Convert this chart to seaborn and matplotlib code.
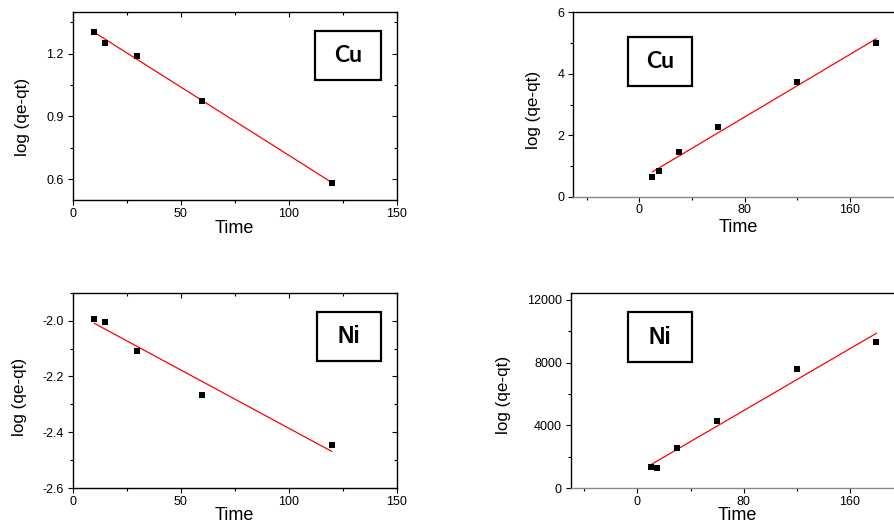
import numpy as np
import pandas as pd
import matplotlib
matplotlib.use("Agg")
import matplotlib.pyplot as plt
from matplotlib.patches import Rectangle
from matplotlib.ticker import MultipleLocator, FuncFormatter
import seaborn as sns

sns.set_theme(style="ticks")
plt.rcParams["font.family"] = ["Liberation Sans", "DejaVu Sans"]
plt.rcParams.update({"text.color": "black", "axes.labelcolor": "black",
                     "xtick.color": "black", "ytick.color": "black"})

# pseudo-first-order panels (left) and pseudo-second-order panels (right)
time_left = [10, 15, 30, 60, 120]
cu_first = [1.304, 1.252, 1.188, 0.973, 0.582]
ni_first = [-1.996, -2.005, -2.108, -2.266, -2.445]

time_right = [10, 15, 30, 60, 120, 180]
cu_second = [0.63, 0.83, 1.45, 2.26, 3.73, 5.00]
ni_second = [1340, 1295, 2590, 4310, 7620, 9305]

panels = [
    dict(x=time_left, y=cu_first, metal="Cu", rect=[0.0812, 0.6198, 0.362, 0.358],
         xlim=(0, 150), ylim=(0.5, 1.4), xt=(50, 25), yt=(0.3, 0.15),
         box=(0.748, 0.637, 0.204, 0.26), fmt="{:.1f}", side="left",
         xlab=(0.5, -0.149), ylab=(-0.155, 0.44)),
    dict(x=time_right, y=cu_second, metal="Cu", rect=[0.6406, 0.626, 0.368, 0.3506],
         xlim=(-50, 200), ylim=(0, 6), xt=(80, 40), yt=(2, 1),
         box=(0.165, 0.60, 0.196, 0.264), fmt="{:.0f}", side="right",
         xlab=(0.5, -0.167), ylab=(-0.121, 0.473)),
    dict(x=time_left, y=ni_first, metal="Ni", rect=[0.0812, 0.0717, 0.362, 0.372],
         xlim=(0, 150), ylim=(-2.6, -1.9), xt=(50, 25), yt=(0.2, 0.1),
         box=(0.753, 0.652, 0.199, 0.251), fmt="{:.1f}", side="left",
         xlab=(0.5, -0.14), ylab=(-0.163, 0.468)),
    dict(x=time_right, y=ni_second, metal="Ni", rect=[0.638, 0.0717, 0.371, 0.372],
         xlim=(-50, 200), ylim=(0, 12450), xt=(80, 40), yt=(4000, 2000),
         box=(0.1726, 0.644, 0.193, 0.257), fmt="{:.0f}", side="right",
         xlab=(0.5, -0.14), ylab=(-0.204, 0.475)),
]

fig = plt.figure(figsize=(8.95, 5.26), dpi=100)

for p in panels:
    ax = fig.add_axes(p["rect"])
    df = pd.DataFrame({"Time": p["x"], "val": p["y"]})
    sns.regplot(data=df, x="Time", y="val", ci=None, ax=ax, marker="s",
                scatter_kws={"color": "black", "s": 22, "linewidths": 0, "alpha": 1, "zorder": 3},
                line_kws={"color": "red", "lw": 0.9, "zorder": 2})
    ax.set_xlim(*p["xlim"])
    ax.set_ylim(*p["ylim"])
    ax.xaxis.set_major_locator(MultipleLocator(p["xt"][0]))
    ax.xaxis.set_minor_locator(MultipleLocator(p["xt"][1]))
    ax.yaxis.set_major_locator(MultipleLocator(p["yt"][0]))
    ax.yaxis.set_minor_locator(MultipleLocator(p["yt"][1]))
    ax.yaxis.set_major_formatter(FuncFormatter(lambda v, _, f=p["fmt"]: f.format(v)))

    for s in ax.spines.values():
        s.set_visible(True)
        s.set_linewidth(1.0)
        s.set_color("black")
    if p["side"] == "right":
        ax.spines["bottom"].set_color("#888888")

    ax.tick_params(which="both", direction="out", labelsize=9, width=0.8)
    ax.tick_params(axis="x", pad=2)
    ax.tick_params(axis="y", pad=3)
    ax.tick_params(which="major", length=3.5)
    ax.tick_params(which="minor", length=2.5)
    if p["side"] == "left":
        # Origin style: inward ticks on the top and right frame
        ax.tick_params(which="both", top=True, right=True)
        for t in ax.xaxis.get_ticklines(minor=False)[1::2] + ax.xaxis.get_ticklines(minor=True)[1::2]:
            t.set_marker(matplotlib.lines.TICKDOWN)
        for t in ax.yaxis.get_ticklines(minor=False)[1::2] + ax.yaxis.get_ticklines(minor=True)[1::2]:
            t.set_marker(matplotlib.lines.TICKLEFT)

    ax.set_xlabel("Time", fontsize=13)
    ax.set_ylabel("log (qe-qt)", fontsize=12.3)
    ax.xaxis.label.set_va("center")
    ax.yaxis.label.set_va("center")
    ax.xaxis.set_label_coords(*p["xlab"])
    ax.yaxis.set_label_coords(*p["ylab"])

    bx, by, bw, bh = p["box"]
    ax.add_patch(Rectangle((bx, by), bw, bh, transform=ax.transAxes, fill=False,
                           edgecolor="black", lw=1.6, zorder=4, clip_on=False))
    font = ["Lato", "DejaVu Sans"] if p["metal"] == "Cu" else ["Liberation Sans", "DejaVu Sans"]
    ax.text(bx + bw / 2, by + bh / 2, p["metal"], transform=ax.transAxes,
            ha="center", va="center", fontsize=16.5, fontweight="bold", family=font, zorder=5)

fig.savefig("out.png", dpi=100)
